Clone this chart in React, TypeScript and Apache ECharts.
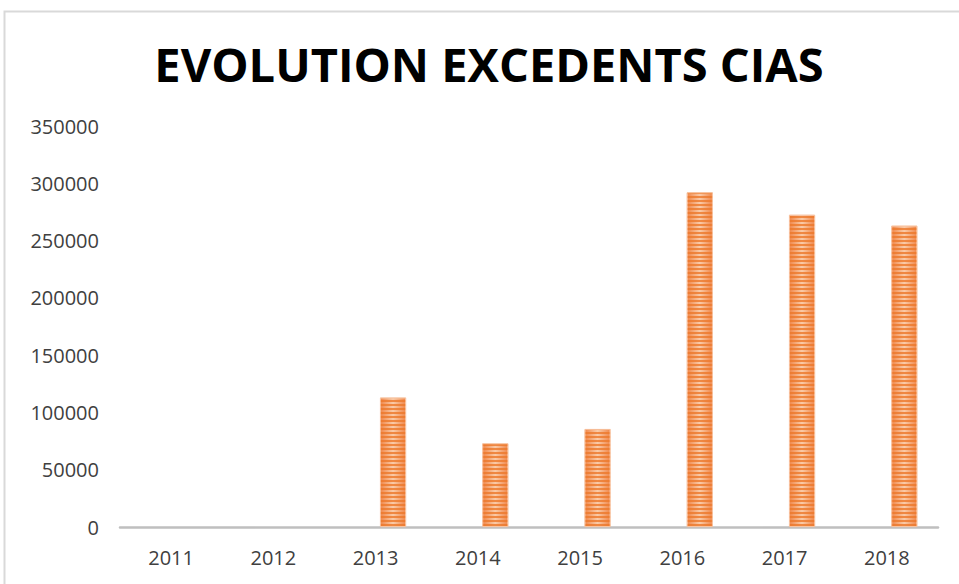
import React, { useEffect, useRef } from "react";
import * as echarts from "echarts";

const categories = ["2011", "2012", "2013", "2014", "2015", "2016", "2017", "2018"];
const emptySeries = [0, 0, 0, 0, 0, 0, 0, 0];
const excedents = [null, null, 113000, 73000, 85500, 292000, 272500, 263000];
const yTicks = { min: 0, max: 350000, interval: 50000 };
const titleText = "EVOLUTION EXCEDENTS CIAS";

export default function App() {
  const ref = useRef<HTMLDivElement>(null);
  useEffect(() => {
    document.body.style.margin = "0";
    const chart = echarts.init(ref.current!, null, { renderer: "svg" });
    chart.setOption({
      animation: false,
      backgroundColor: "#ffffff",
      title: {
        text: titleText,
        left: 484,
        top: 35,
        textAlign: "center",
        textStyle: { fontFamily: "Open Sans", fontWeight: "bold", fontSize: 47, color: "#000000" },
      },
      graphic: [
        {
          type: "rect",
          shape: { x: 4.5, y: 11.5, width: 1000, height: 700 },
          style: { fill: "none", stroke: "#d9d9d9", lineWidth: 2 },
          silent: true,
          z: -10,
        },
      ],
      grid: { left: 120, right: 21, top: 126, bottom: 57, containLabel: false },
      xAxis: {
        type: "category",
        data: categories,
        axisLine: { lineStyle: { color: "#bfbfbf", width: 2.5 } },
        axisTick: { show: false },
        axisLabel: { color: "#404040", fontFamily: "Open Sans", fontSize: 20, margin: 20 },
      },
      yAxis: {
        type: "value",
        min: yTicks.min,
        max: yTicks.max,
        interval: yTicks.interval,
        axisLine: { show: false },
        axisTick: { show: false },
        splitLine: { show: false },
        axisLabel: {
          color: "#404040",
          fontFamily: "Open Sans",
          fontSize: 20,
          margin: 21,
          formatter: (v: number) => String(v),
        },
      },
      series: [
        {
          type: "bar",
          data: emptySeries,
          barWidth: 26,
          barGap: "34%",
          itemStyle: { color: "rgba(0,0,0,0)" },
        },
        {
          type: "bar",
          data: excedents,
          barWidth: 26,
          itemStyle: {
            color: {
              type: "linear",
              x: 0, y: 0, x2: 1, y2: 0,
              colorStops: [
                { offset: 0, color: "#F0874A" },
                { offset: 0.5, color: "#FACBA8" },
                { offset: 1, color: "#F0874A" },
              ],
            },
            borderColor: "#F7C4A2",
            borderWidth: 0.8,
            decal: {
              symbol: "rect",
              symbolSize: 1,
              dashArrayX: [1, 0],
              dashArrayY: [2, 2],
              rotation: 0,
              color: "rgba(236,120,42,0.8)",
            },
          },
        },
      ],
    });
    return () => chart.dispose();
  }, []);
  return <div ref={ref} style={{ width: 959, height: 584 }} />;
}
